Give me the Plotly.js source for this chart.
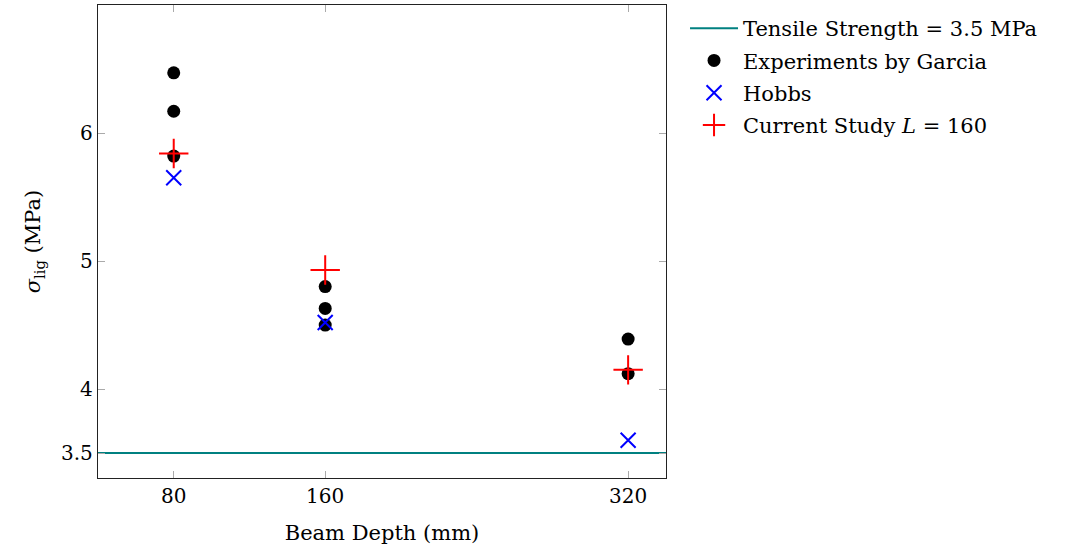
<!DOCTYPE html>
<html>
<head>
<meta charset="utf-8">
<script src="https://cdn.plot.ly/plotly-3.0.1.min.js"></script>
<style>html,body{margin:0;padding:0;background:#fff;}#chart{width:1075px;height:552px;}</style>
</head>
<body>
<div id="chart"></div>
<script>
// Data
const tensileStrength = 3.5;
const garciaDepth = [80, 80, 80, 160, 160, 160, 320, 320];
const garciaSigma = [6.47, 6.17, 5.82, 4.80, 4.63, 4.50, 4.39, 4.12];
const hobbsDepth = [80, 160, 320];
const hobbsSigma = [5.65, 4.52, 3.60];
const currentDepth = [80, 160, 320];
const currentSigma = [5.84, 4.93, 4.15];
const xTicks = [80, 160, 320];
const yTicks = [3.5, 4, 5, 6];
const yTickText = ['3.5', '4', '5', '6'];

const xRange = [40, 340];
const yRange = [3.305, 7.0];
const font = 'DejaVu Serif, Liberation Serif, serif';

const traces = [
  {x: xRange, y: [tensileStrength, tensileStrength], mode: 'lines', name: 'Tensile Strength = 3.5 MPa',
   line: {color: '#008080', width: 2}, legendgroup: 'a', cliponaxis: false},
  {x: garciaDepth, y: garciaSigma, mode: 'markers', name: 'Experiments by Garcia',
   marker: {symbol: 'circle', color: 'black', size: 13}, legendgroup: 'b'},
  {x: hobbsDepth, y: hobbsSigma, mode: 'markers', name: 'Hobbs',
   marker: {symbol: 'x-thin-open', color: 'blue', size: 15, line: {color: 'blue', width: 2}}, legendgroup: 'c'},
  {x: currentDepth, y: currentSigma, mode: 'markers', name: 'Current Study <i>L</i> = 160',
   marker: {symbol: 'cross-thin-open', color: 'red', size: 21, line: {color: 'red', width: 2}}, legendgroup: 'd'}
];

const layout = {
  width: 1075, height: 552,
  margin: {l: 98, r: 409, t: 5, b: 74},
  paper_bgcolor: 'white', plot_bgcolor: 'white',
  font: {family: font, size: 20, color: 'black'},
  showlegend: true,
  legend: {x: 1.0335, xanchor: 'left', y: 0.9937, yanchor: 'top', traceorder: 'grouped', tracegroupgap: 2,
           font: {family: font, size: 21, color: 'black'}, bgcolor: 'rgba(0,0,0,0)', itemwidth: 48},
  xaxis: {range: xRange, tickvals: xTicks, ticktext: xTicks.map(String), showgrid: false, zeroline: false,
          showline: true, linecolor: '#222', linewidth: 1.2, mirror: 'ticks', ticks: 'inside', ticklen: 7,
          tickcolor: '#aaa', tickwidth: 1,
          title: {text: 'Beam Depth (mm)', font: {family: font, size: 21}, standoff: 18}},
  yaxis: {range: yRange, tickvals: yTicks, ticktext: yTickText, showgrid: false, zeroline: false,
          showline: true, linecolor: '#222', linewidth: 1.2, mirror: 'ticks', ticks: 'inside', ticklen: 7,
          tickcolor: '#aaa', tickwidth: 1,
          title: {text: '<i>σ</i><sub>lig</sub> (MPa)', font: {family: font, size: 21}, standoff: 14}}
};

Plotly.newPlot('chart', traces, layout, {displayModeBar: false, staticPlot: true});
</script>
</body>
</html>
